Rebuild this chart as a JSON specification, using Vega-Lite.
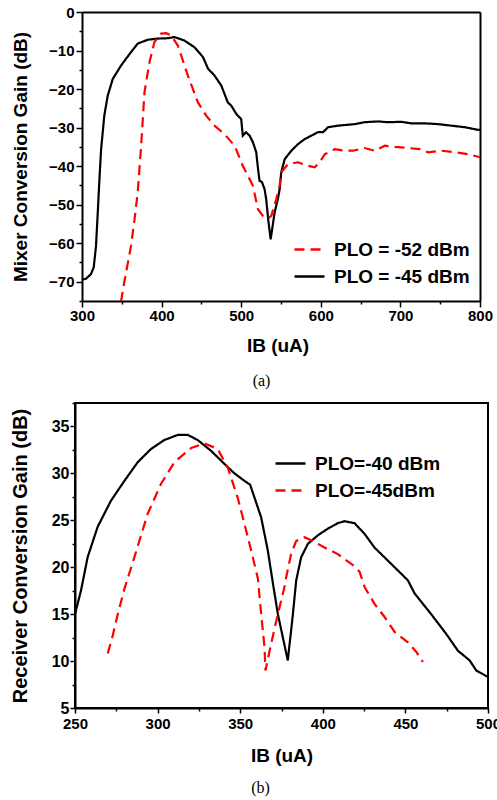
{
  "$schema": "https://vega.github.io/schema/vega-lite/v6.json",
  "padding": {"left": 9, "top": 5, "right": 0, "bottom": 0},
  "background": "white",
  "datasets": {
    "a": [
      {"I":300,"G":-69.5,"s":"PLO = -45 dBm"},{"I":305,"G":-69.2,"s":"PLO = -45 dBm"},{"I":311,"G":-68.1,"s":"PLO = -45 dBm"},{"I":314.7,"G":-66.3,"s":"PLO = -45 dBm"},{"I":317.6,"G":-60.7,"s":"PLO = -45 dBm"},{"I":319.8,"G":-52,"s":"PLO = -45 dBm"},{"I":321.5,"G":-45,"s":"PLO = -45 dBm"},{"I":324,"G":-35.6,"s":"PLO = -45 dBm"},{"I":328,"G":-26.9,"s":"PLO = -45 dBm"},{"I":332.3,"G":-21.7,"s":"PLO = -45 dBm"},{"I":338.6,"G":-17.4,"s":"PLO = -45 dBm"},{"I":349,"G":-13.9,"s":"PLO = -45 dBm"},{"I":361.6,"G":-10.4,"s":"PLO = -45 dBm"},{"I":370,"G":-8.2,"s":"PLO = -45 dBm"},{"I":382.6,"G":-7.2,"s":"PLO = -45 dBm"},{"I":395,"G":-6.9,"s":"PLO = -45 dBm"},{"I":407.8,"G":-6.8,"s":"PLO = -45 dBm"},{"I":416,"G":-6.5,"s":"PLO = -45 dBm"},{"I":428.6,"G":-7.4,"s":"PLO = -45 dBm"},{"I":441,"G":-9.1,"s":"PLO = -45 dBm"},{"I":452,"G":-11.7,"s":"PLO = -45 dBm"},{"I":458.3,"G":-14.7,"s":"PLO = -45 dBm"},{"I":466.5,"G":-16.5,"s":"PLO = -45 dBm"},{"I":475,"G":-19.1,"s":"PLO = -45 dBm"},{"I":483,"G":-23.4,"s":"PLO = -45 dBm"},{"I":487.5,"G":-24.3,"s":"PLO = -45 dBm"},{"I":494,"G":-26.5,"s":"PLO = -45 dBm"},{"I":500,"G":-27.8,"s":"PLO = -45 dBm"},{"I":502,"G":-32.1,"s":"PLO = -45 dBm"},{"I":506,"G":-31.2,"s":"PLO = -45 dBm"},{"I":510.6,"G":-32.1,"s":"PLO = -45 dBm"},{"I":514.7,"G":-33.8,"s":"PLO = -45 dBm"},{"I":518.9,"G":-36.4,"s":"PLO = -45 dBm"},{"I":521,"G":-40.5,"s":"PLO = -45 dBm"},{"I":523,"G":-43.8,"s":"PLO = -45 dBm"},{"I":526,"G":-44.1,"s":"PLO = -45 dBm"},{"I":529.4,"G":-46,"s":"PLO = -45 dBm"},{"I":531.4,"G":-48.6,"s":"PLO = -45 dBm"},{"I":534,"G":-54,"s":"PLO = -45 dBm"},{"I":537,"G":-59,"s":"PLO = -45 dBm"},{"I":539.5,"G":-55.5,"s":"PLO = -45 dBm"},{"I":542,"G":-52,"s":"PLO = -45 dBm"},{"I":546,"G":-48.6,"s":"PLO = -45 dBm"},{"I":548.3,"G":-46,"s":"PLO = -45 dBm"},{"I":550.3,"G":-41.6,"s":"PLO = -45 dBm"},{"I":554.6,"G":-38.2,"s":"PLO = -45 dBm"},{"I":563,"G":-36,"s":"PLO = -45 dBm"},{"I":571.3,"G":-34.3,"s":"PLO = -45 dBm"},{"I":579.7,"G":-33,"s":"PLO = -45 dBm"},{"I":588,"G":-32.1,"s":"PLO = -45 dBm"},{"I":596.5,"G":-31.2,"s":"PLO = -45 dBm"},{"I":602.8,"G":-31.2,"s":"PLO = -45 dBm"},{"I":609,"G":-29.9,"s":"PLO = -45 dBm"},{"I":621.6,"G":-29.5,"s":"PLO = -45 dBm"},{"I":642.6,"G":-29.1,"s":"PLO = -45 dBm"},{"I":655,"G":-28.6,"s":"PLO = -45 dBm"},{"I":672,"G":-28.4,"s":"PLO = -45 dBm"},{"I":684.5,"G":-28.6,"s":"PLO = -45 dBm"},{"I":701,"G":-28.5,"s":"PLO = -45 dBm"},{"I":713.8,"G":-28.9,"s":"PLO = -45 dBm"},{"I":730.7,"G":-28.9,"s":"PLO = -45 dBm"},{"I":747.4,"G":-29.1,"s":"PLO = -45 dBm"},{"I":764,"G":-29.5,"s":"PLO = -45 dBm"},{"I":781,"G":-29.9,"s":"PLO = -45 dBm"},{"I":798,"G":-30.6,"s":"PLO = -45 dBm"},{"I":800,"G":-30.6,"s":"PLO = -45 dBm"},
      {"I":349,"G":-75.2,"s":"PLO = -52 dBm"},{"I":353,"G":-70.2,"s":"PLO = -52 dBm"},{"I":361.6,"G":-60.7,"s":"PLO = -52 dBm"},{"I":366,"G":-53.8,"s":"PLO = -52 dBm"},{"I":370,"G":-46.8,"s":"PLO = -52 dBm"},{"I":374,"G":-35.6,"s":"PLO = -52 dBm"},{"I":378.5,"G":-20.8,"s":"PLO = -52 dBm"},{"I":384.8,"G":-13,"s":"PLO = -52 dBm"},{"I":391,"G":-7.8,"s":"PLO = -52 dBm"},{"I":399.4,"G":-5.6,"s":"PLO = -52 dBm"},{"I":405.7,"G":-5.5,"s":"PLO = -52 dBm"},{"I":412,"G":-6.1,"s":"PLO = -52 dBm"},{"I":420.4,"G":-8.7,"s":"PLO = -52 dBm"},{"I":433,"G":-16.5,"s":"PLO = -52 dBm"},{"I":445.5,"G":-23.4,"s":"PLO = -52 dBm"},{"I":456,"G":-26.9,"s":"PLO = -52 dBm"},{"I":466.5,"G":-29.5,"s":"PLO = -52 dBm"},{"I":479,"G":-31.7,"s":"PLO = -52 dBm"},{"I":491.7,"G":-34.7,"s":"PLO = -52 dBm"},{"I":502,"G":-39.9,"s":"PLO = -52 dBm"},{"I":508.4,"G":-42.5,"s":"PLO = -52 dBm"},{"I":514.7,"G":-45.1,"s":"PLO = -52 dBm"},{"I":521,"G":-51.2,"s":"PLO = -52 dBm"},{"I":527.3,"G":-52.9,"s":"PLO = -52 dBm"},{"I":533.6,"G":-53.6,"s":"PLO = -52 dBm"},{"I":537.8,"G":-52.9,"s":"PLO = -52 dBm"},{"I":544,"G":-48.6,"s":"PLO = -52 dBm"},{"I":548.3,"G":-45,"s":"PLO = -52 dBm"},{"I":550.3,"G":-41.6,"s":"PLO = -52 dBm"},{"I":558.7,"G":-39.5,"s":"PLO = -52 dBm"},{"I":571.3,"G":-39,"s":"PLO = -52 dBm"},{"I":583.9,"G":-39.9,"s":"PLO = -52 dBm"},{"I":592.3,"G":-40.3,"s":"PLO = -52 dBm"},{"I":598.6,"G":-39,"s":"PLO = -52 dBm"},{"I":605,"G":-36.9,"s":"PLO = -52 dBm"},{"I":617.5,"G":-35.6,"s":"PLO = -52 dBm"},{"I":630,"G":-36,"s":"PLO = -52 dBm"},{"I":640.5,"G":-36,"s":"PLO = -52 dBm"},{"I":655,"G":-35.3,"s":"PLO = -52 dBm"},{"I":667.8,"G":-36,"s":"PLO = -52 dBm"},{"I":680.4,"G":-34.7,"s":"PLO = -52 dBm"},{"I":693,"G":-35,"s":"PLO = -52 dBm"},{"I":709.7,"G":-35.3,"s":"PLO = -52 dBm"},{"I":724.4,"G":-35.6,"s":"PLO = -52 dBm"},{"I":735,"G":-36.4,"s":"PLO = -52 dBm"},{"I":751.6,"G":-36,"s":"PLO = -52 dBm"},{"I":768.4,"G":-36.4,"s":"PLO = -52 dBm"},{"I":785,"G":-36.9,"s":"PLO = -52 dBm"},{"I":800,"G":-37.7,"s":"PLO = -52 dBm"}
    ],
    "b": [
      {"I":250,"G":15,"s":"PLO=-40 dBm"},{"I":253.6,"G":17.5,"s":"PLO=-40 dBm"},{"I":257.7,"G":21.1,"s":"PLO=-40 dBm"},{"I":263.7,"G":24.3,"s":"PLO=-40 dBm"},{"I":271.8,"G":27.1,"s":"PLO=-40 dBm"},{"I":279.9,"G":29.2,"s":"PLO=-40 dBm"},{"I":288,"G":31.2,"s":"PLO=-40 dBm"},{"I":296,"G":32.6,"s":"PLO=-40 dBm"},{"I":304,"G":33.55,"s":"PLO=-40 dBm"},{"I":312.2,"G":34.1,"s":"PLO=-40 dBm"},{"I":318.3,"G":34.1,"s":"PLO=-40 dBm"},{"I":324.3,"G":33.55,"s":"PLO=-40 dBm"},{"I":332.4,"G":32.4,"s":"PLO=-40 dBm"},{"I":340.5,"G":31,"s":"PLO=-40 dBm"},{"I":346.5,"G":30,"s":"PLO=-40 dBm"},{"I":352.6,"G":29.2,"s":"PLO=-40 dBm"},{"I":356,"G":28.8,"s":"PLO=-40 dBm"},{"I":358.7,"G":27.4,"s":"PLO=-40 dBm"},{"I":362.7,"G":25.3,"s":"PLO=-40 dBm"},{"I":366.7,"G":21.8,"s":"PLO=-40 dBm"},{"I":369.7,"G":18.4,"s":"PLO=-40 dBm"},{"I":372.8,"G":15,"s":"PLO=-40 dBm"},{"I":378.8,"G":10.07,"s":"PLO=-40 dBm"},{"I":381.9,"G":15,"s":"PLO=-40 dBm"},{"I":383.9,"G":18.6,"s":"PLO=-40 dBm"},{"I":386.9,"G":21.06,"s":"PLO=-40 dBm"},{"I":391,"G":22.5,"s":"PLO=-40 dBm"},{"I":397,"G":23.4,"s":"PLO=-40 dBm"},{"I":403,"G":24.1,"s":"PLO=-40 dBm"},{"I":409.1,"G":24.7,"s":"PLO=-40 dBm"},{"I":413.1,"G":24.9,"s":"PLO=-40 dBm"},{"I":419.2,"G":24.7,"s":"PLO=-40 dBm"},{"I":425.3,"G":23.55,"s":"PLO=-40 dBm"},{"I":431.3,"G":22.1,"s":"PLO=-40 dBm"},{"I":439.4,"G":20.7,"s":"PLO=-40 dBm"},{"I":447.5,"G":19.3,"s":"PLO=-40 dBm"},{"I":451.5,"G":18.6,"s":"PLO=-40 dBm"},{"I":455.6,"G":17.2,"s":"PLO=-40 dBm"},{"I":465.6,"G":15,"s":"PLO=-40 dBm"},{"I":474.7,"G":12.9,"s":"PLO=-40 dBm"},{"I":481.8,"G":11.1,"s":"PLO=-40 dBm"},{"I":488.9,"G":10.07,"s":"PLO=-40 dBm"},{"I":492.9,"G":9,"s":"PLO=-40 dBm"},{"I":500,"G":8.3,"s":"PLO=-40 dBm"},
      {"I":269.8,"G":10.8,"s":"PLO=-45dBm"},{"I":272.8,"G":12.7,"s":"PLO=-45dBm"},{"I":275.9,"G":15,"s":"PLO=-45dBm"},{"I":279.9,"G":17.7,"s":"PLO=-45dBm"},{"I":286,"G":21.1,"s":"PLO=-45dBm"},{"I":294,"G":25.7,"s":"PLO=-45dBm"},{"I":302.1,"G":28.9,"s":"PLO=-45dBm"},{"I":310.2,"G":31.2,"s":"PLO=-45dBm"},{"I":320.3,"G":32.7,"s":"PLO=-45dBm"},{"I":328.4,"G":33.2,"s":"PLO=-45dBm"},{"I":336.4,"G":32.6,"s":"PLO=-45dBm"},{"I":342.5,"G":30.6,"s":"PLO=-45dBm"},{"I":348.5,"G":27.4,"s":"PLO=-45dBm"},{"I":352.6,"G":24.6,"s":"PLO=-45dBm"},{"I":356.6,"G":21.8,"s":"PLO=-45dBm"},{"I":360.7,"G":18.8,"s":"PLO=-45dBm"},{"I":362.7,"G":15,"s":"PLO=-45dBm"},{"I":364.7,"G":11.5,"s":"PLO=-45dBm"},{"I":365.3,"G":9,"s":"PLO=-45dBm"},{"I":368.7,"G":11.85,"s":"PLO=-45dBm"},{"I":372.8,"G":15,"s":"PLO=-45dBm"},{"I":376.8,"G":17.9,"s":"PLO=-45dBm"},{"I":377.8,"G":18.9,"s":"PLO=-45dBm"},{"I":380.8,"G":21.4,"s":"PLO=-45dBm"},{"I":383.9,"G":22.8,"s":"PLO=-45dBm"},{"I":389,"G":23.2,"s":"PLO=-45dBm"},{"I":395,"G":22.7,"s":"PLO=-45dBm"},{"I":401,"G":22.1,"s":"PLO=-45dBm"},{"I":409.1,"G":21.4,"s":"PLO=-45dBm"},{"I":419.2,"G":20.1,"s":"PLO=-45dBm"},{"I":422.3,"G":19.5,"s":"PLO=-45dBm"},{"I":425.3,"G":17.9,"s":"PLO=-45dBm"},{"I":431.3,"G":16.1,"s":"PLO=-45dBm"},{"I":437.4,"G":14.7,"s":"PLO=-45dBm"},{"I":443.5,"G":13.1,"s":"PLO=-45dBm"},{"I":451.5,"G":12,"s":"PLO=-45dBm"},{"I":456.5,"G":11,"s":"PLO=-45dBm"},{"I":460.6,"G":9.9,"s":"PLO=-45dBm"}
    ]
  },
  "vconcat": [
    {
      "width": 405,
      "height": 289,
      "view": {"stroke": null},
      "title": {"text": "(a)", "orient": "bottom", "offset": 18, "dx": -16},
      "data": {"name": "a"},
      "mark": {"type": "line", "clip": true, "strokeWidth": 2.2},
      "encoding": {
        "x": {"field": "I", "type": "quantitative", "scale": {"domain": [291.2, 800], "nice": false, "zero": false},
          "axis": {"orient": "bottom", "domainDash": [0, 7, 400, 20], "values": [300,350,400,450,500,550,600,650,700,750,800],
            "labelExpr": "datum.value % 100 == 0 ? datum.label : ''",
            "tickSize": {"condition": {"test": "datum.value % 100 != 0", "value": 3}, "value": 6},
            "grid": true, "gridColor": "black", "gridWidth": 2,
            "gridOpacity": {"condition": {"test": "datum.value == 800", "value": 1}, "value": 0},
            "labelFontSize": 15, "labelPadding": 1, "title": "IB (uA)", "titleFontSize": 19, "titlePadding": 13}},
        "y": {"field": "G", "type": "quantitative", "scale": {"domain": [-75, 0], "nice": false, "zero": false},
          "axis": {"orient": "left", "offset": -7, "values": [-75,-70,-65,-60,-55,-50,-45,-40,-35,-30,-25,-20,-15,-10,-5,0],
            "labelExpr": "datum.value % 10 == 0 ? datum.label : ''",
            "tickSize": {"condition": {"test": "datum.value % 10 != 0", "value": 3}, "value": 6},
            "grid": true, "gridColor": "black", "gridWidth": 2, "gridDash": [0, 7, 400, 20],
            "gridOpacity": {"condition": {"test": "datum.value == 0", "value": 1}, "value": 0},
            "labelFontSize": 15, "labelPadding": 2, "title": "Mixer Conversion Gain (dB)", "titleFontSize": 19, "titlePadding": 18}},
        "color": {"field": "s", "type": "nominal", "scale": {"domain": ["PLO = -52 dBm", "PLO = -45 dBm"], "range": ["#ff0000", "#000000"]},
          "legend": {"orient": "none", "legendX": 218, "legendY": 221, "title": null}},
        "strokeDash": {"field": "s", "type": "nominal", "scale": {"domain": ["PLO = -52 dBm", "PLO = -45 dBm"], "range": [[10, 6], [1, 0]]},
          "legend": {"orient": "none", "legendX": 218, "legendY": 221, "title": null}}
      }
    },
    {
      "width": 413,
      "height": 305,
      "title": {"text": "(b)", "orient": "bottom", "offset": 15, "dx": -21},
      "data": {"name": "b"},
      "mark": {"type": "line", "clip": true, "strokeWidth": 2.2},
      "encoding": {
        "x": {"field": "I", "type": "quantitative", "scale": {"domain": [250, 500], "nice": false, "zero": false},
          "axis": {"orient": "bottom", "values": [250,275,300,325,350,375,400,425,450,475,500],
            "labelExpr": "datum.value % 50 == 0 ? datum.label : ''",
            "tickSize": {"condition": {"test": "datum.value % 50 != 0", "value": 3}, "value": 5},
            "labelFontSize": 15, "labelPadding": 3, "title": "IB (uA)", "titleFontSize": 19, "titlePadding": 15}},
        "y": {"field": "G", "type": "quantitative", "scale": {"domain": [5, 37.5], "nice": false, "zero": false},
          "axis": {"orient": "left", "values": [5,7.5,10,12.5,15,17.5,20,22.5,25,27.5,30,32.5,35,37.5],
            "labelExpr": "datum.value % 5 == 0 ? datum.label : ''",
            "tickSize": {"condition": {"test": "datum.value % 5 != 0", "value": 3}, "value": 5},
            "labelFontSize": 16, "labelPadding": 1, "title": "Receiver Conversion Gain (dB)", "titleFontSize": 20, "titlePadding": 21}},
        "color": {"field": "s", "type": "nominal", "scale": {"domain": ["PLO=-40 dBm", "PLO=-45dBm"], "range": ["#000000", "#ff0000"]},
          "legend": {"orient": "none", "legendX": 199, "legendY": 44, "title": null, "rowPadding": -6}},
        "strokeDash": {"field": "s", "type": "nominal", "scale": {"domain": ["PLO=-40 dBm", "PLO=-45dBm"], "range": [[1, 0], [10, 6]]},
          "legend": {"orient": "none", "legendX": 199, "legendY": 44, "title": null, "rowPadding": -6}}
      }
    }
  ],
  "spacing": 5,
  "resolve": {"scale": {"color": "independent", "strokeDash": "independent"}, "legend": {"color": "independent", "strokeDash": "independent"}},
  "config": {
    "font": "Liberation Sans",
    "view": {"stroke": "black", "strokeWidth": 2},
    "axis": {"domainColor": "black", "domainWidth": 2, "tickColor": "black", "tickWidth": 1.5, "labelFont": "Liberation Sans", "labelFontWeight": "bold", "labelColor": "black", "titleFont": "Liberation Sans", "titleFontWeight": "bold", "titleColor": "black", "grid": false, "labelFlush": false, "labelOverlap": false},
    "legend": {"symbolType": "stroke", "symbolSize": 900, "symbolStrokeWidth": 2.5, "labelFont": "Liberation Sans", "labelFontSize": 19, "labelFontWeight": "bold", "labelColor": "black", "labelOffset": 8, "rowPadding": -4, "labelLimit": 300},
    "title": {"font": "Liberation Serif", "fontWeight": "normal", "fontSize": 16, "color": "black"}
  }
}
